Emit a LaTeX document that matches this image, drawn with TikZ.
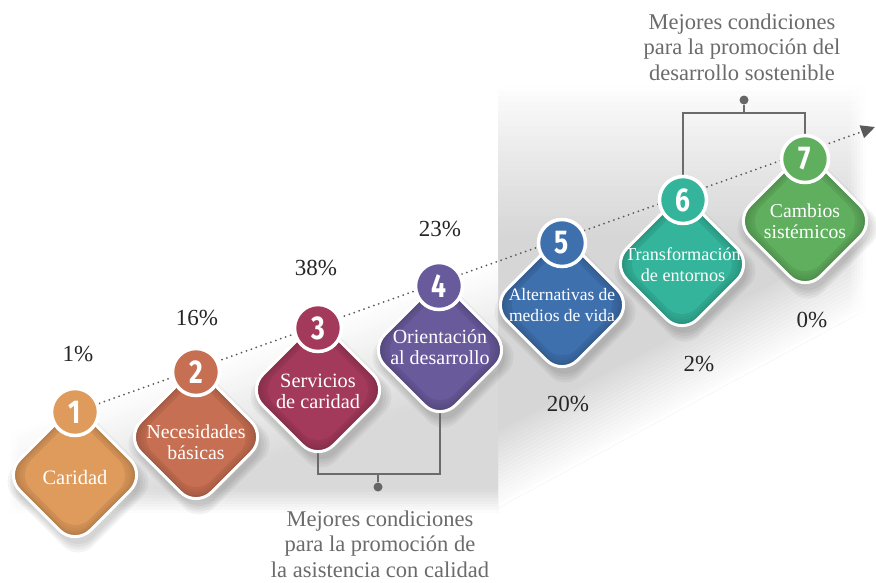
\documentclass[tikz,border=0pt]{standalone}
\usepackage{fontspec}
\setmainfont{Liberation Serif}
\newfontfamily\numfont[FakeStretch=0.8]{Fira Sans}
\usetikzlibrary{arrows.meta,calc}
\definecolor{c1}{HTML}{DF9B5C}
\definecolor{c2}{HTML}{C76F52}
\definecolor{c3}{HTML}{A43A5B}
\definecolor{c4}{HTML}{695A9B}
\definecolor{c5}{HTML}{3E70AE}
\definecolor{c6}{HTML}{33B49B}
\definecolor{c7}{HTML}{60AF5E}
\definecolor{capgray}{HTML}{6B6B6B}
\definecolor{dotgray}{HTML}{5A5A5A}
\tikzset{
  innersq/.style={rectangle, rounded corners=21pt, minimum width=#1, minimum height=#1, inner sep=0pt, rotate=45},
  shadowsq/.style={innersq=#1, fill=black, fill opacity=0.045},
  diambox/.style={rectangle, rounded corners=22pt, minimum width=100pt, minimum height=100pt, inner sep=0pt, rotate=45, draw=white, line width=3pt,
    fill=#1!72!black,
    path picture={
      \foreach \s in {99,95,91,87} {\node[innersq=\s pt, fill=#1, fill opacity=0.3] at (path picture bounding box.center) {};}
      \node[innersq=83pt, fill=#1] at (path picture bounding box.center) {};
    }},
  dtext/.style={text=white, font=\fontsize{#1}{21}\selectfont, align=center, inner sep=0pt},
  numc/.style={circle, minimum size=47pt, inner sep=0pt, draw=white, line width=3.5pt, text=white,
    font=\numfont\bfseries\fontsize{33}{33}\selectfont},
  pct/.style={text=black!85, font=\fontsize{23}{23}\selectfont, inner sep=0pt},
  captext/.style={text=capgray, font=\fontsize{22.5}{25.5}\selectfont, align=center, inner sep=0pt},
  brk/.style={draw=black!58, line width=1.3pt},
  bdot/.style={circle, fill=black!60, minimum size=9pt, inner sep=0pt},
}
\begin{document}
\begin{tikzpicture}[x=1pt,y=-1pt]
\useasboundingbox (0,0) rectangle (876,582);
% named positions
\coordinate (d1) at (75,475);
\coordinate (d2) at (196,437);
\coordinate (d3) at (318,390);
\coordinate (d4) at (440,350);
\coordinate (d5) at (562,305);
\coordinate (d6) at (682,264);
\coordinate (d7) at (805,221);
\coordinate (n1) at (75,412);
\coordinate (n6) at (683,200);
\coordinate (n7) at (805,159);
\coordinate (AR) at (875,127);
\coordinate (bb) at (378,474);
\coordinate (tb) at (744,113);
% ---------- background panels (stepped gradients) ----------
\fill[white] (0,0) rectangle (876,582);
% right panel
\begin{scope}
  \clip (498,86) -- (866,86) -- (866,310) -- (498,508) -- cycle;
  \foreach \i in {0,...,84} {
    \pgfmathsetmacro{\yy}{86+5*\i}
    \pgfmathsetmacro{\lv}{16*(min(1,(\i*5+2.5)/150))^0.85}
    \fill[black!\lv] (498,\yy) rectangle (866,\yy+5.4);
  }
\end{scope}
\foreach \t in {0,4,...,76} {
  \pgfmathsetmacro{\op}{1-(\t+2)/80}
  \fill[white, fill opacity=\op] (498,508-\t) -- (866,310-\t) -- (866,305.7-\t) -- (498,503.7-\t) -- cycle;
}
\foreach \k in {0,...,5} {
  \pgfmathsetmacro{\op}{(\k+0.5)/6}
  \fill[white, fill opacity=\op] (848+3*\k,86) rectangle (851.2+3*\k,320);
}
% left panel
\begin{scope}
  \clip (10,250) rectangle (498,512);
  \foreach \d in {0,4,...,260} {
    \pgfmathsetmacro{\lv}{min(15,\d*15/120)}
    \fill[black!\lv] (10,430+\d) -- (498,260+\d) -- (498,264.6+\d) -- (10,434.6+\d) -- cycle;
  }
\end{scope}
\foreach \t in {0,3,...,21} {
  \pgfmathsetmacro{\op}{(\t+1.5)/24}
  \fill[white, fill opacity=\op] (10,489+\t) rectangle (498,492.2+\t);
}
\foreach \k in {0,...,3} {
  \pgfmathsetmacro{\op}{1-(\k+0.5)/4}
  \fill[white, fill opacity=\op] (10+3*\k,250) rectangle (13.2+3*\k,512);
}
% soft shadows of the diamonds
\foreach \p in {d1,d2,d3,d4,d5,d6,d7} {
  \foreach \s in {100,104,108,112} {
    \node[shadowsq=\s pt] at ($(\p)+(3,7)$) {};
  }
}
% connectors (behind the shapes)
\node[bdot] (BD) at (378,487) {};
\node[bdot] (TD) at (744,100) {};
\draw[dotgray, line width=2pt, line cap=round, dash pattern=on 0pt off 5.2pt, -{Triangle[length=14pt,width=13pt]}] (n1) -- (AR);
\draw[brk] (d3) |- (bb) -| (d4);
\draw[brk] (bb) -- (BD);
\draw[brk] (n6) |- (tb) -| (n7);
\draw[brk] (tb) -- (TD);
% diamonds
\node[diambox=c1] (D1) at (d1) {};
\node[diambox=c2] (D2) at (d2) {};
\node[diambox=c3] (D3) at (d3) {};
\node[diambox=c4] (D4) at (d4) {};
\node[diambox=c5] (D5) at (d5) {};
\node[diambox=c6] (D6) at (d6) {};
\node[diambox=c7] (D7) at (d7) {};
% texts
\node[dtext=20.5] (T1) at (75,477) {Caridad};
\node[dtext=19.8] (T2) at (196,442) {Necesidades\\básicas};
\node[dtext=20.3] (T3) at (318,391) {Servicios\\de caridad};
\node[dtext=20] (T4) at (440,347) {Orientación\\al desarrollo};
\node[dtext=17.5] (T5) at (562,305) {Alternativas de\\medios de vida};
\node[dtext=18.2] (T6) at (683,265) {Transformación\\de entornos};
\node[dtext=19.7] (T7) at (805,221) {Cambios\\sistémicos};
% number circles
\node[numc, fill=c1] (N1) at (n1) {1};
\node[numc, fill=c2] (N2) at (196,372) {2};
\node[numc, fill=c3] (N3) at (318,328) {3};
\node[numc, fill=c4] (N4) at (439,286) {4};
\node[numc, fill=c5] (N5) at (562,243) {5};
\node[numc, fill=c6] (N6) at (n6) {6};
\node[numc, fill=c7] (N7) at (n7) {7};
% percentages
\node[pct] (P1) at (78,354) {1\%};
\node[pct] (P2) at (197,318) {16\%};
\node[pct] (P3) at (316,268) {38\%};
\node[pct] (P4) at (440,229) {23\%};
\node[pct] (P5) at (568,404) {20\%};
\node[pct] (P6) at (699,364) {2\%};
\node[pct] (P7) at (812,320) {0\%};
% captions
\node[captext] (BC) at (380,544) {Mejores condiciones\\para la promoción de\\la asistencia con calidad};
\node[captext] (TC) at (742,47) {Mejores condiciones\\para la promoción del\\desarrollo sostenible};
\end{tikzpicture}
\end{document}
